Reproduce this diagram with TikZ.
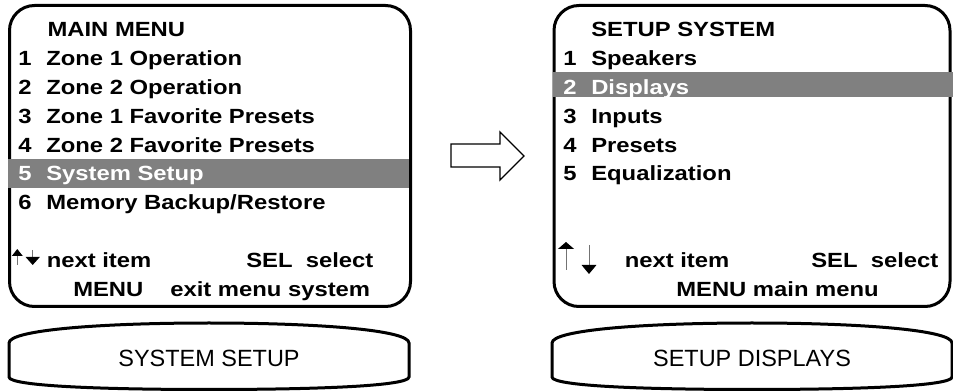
\documentclass[tikz,border=0pt]{standalone}
\usepackage{fontspec}
\setmainfont{Liberation Sans}
\newfontfamily\lcdfont{Liberation Sans Bold}[FakeStretch=1.16]
\usetikzlibrary{arrows.meta}

\begin{document}
\begin{tikzpicture}[x=.75pt, y=-.75pt, screen/.style={draw, line width=2.25pt,
  rounded corners=18.75pt, minimum width=#1, minimum height=225.75pt, inner sep=0pt},
  line/.style={anchor=base west, inner sep=0pt, font=\lcdfont\fontsize{15.4}{18}\selectfont},
  keys/.style 2 args={line width=.75pt, draw=black!55, -{Triangle[width=#1, length=#2, color=black]}},
  pill/.style={line width=2.25pt}, pilltext/.style={font=\fontsize{17.6}{20}\selectfont}]
   \useasboundingbox (0,0) rectangle (953,391);

%Anzeigen
\node[screen=300.75pt] (main) at (210,156) {};
\node[screen=297pt] (setup) at (752,156) {};

%Markierung
\fill[gray] (8,159) rectangle (408.5,188);
\fill[gray] (552.5,72) rectangle (953,97);

%Hauptmenue
\node[line] (mhead) at (47.3,37) {MAIN MENU};
\foreach \nr/\txt/\col in {1/Zone 1 Operation/black, 2/Zone 2 Operation/black,
  3/Zone 1 Favorite Presets/black, 4/Zone 2 Favorite Presets/black,
  5/System Setup/white, 6/{Memory Backup/Restore}/black}
{
  \node[line, text=\col] (m\nr) at (18,37+\nr*28.8) {\nr};
  \node[line, text=\col] (mt\nr) at (46,37+\nr*28.8) {\txt};
}
\draw[keys={8pt}{5.25pt}] (17.3,265) -- (17.3,249);
\draw[keys={10.5pt}{6pt}] (32.7,250) -- (32.7,265);
\node[line] (mnext) at (46.5,268) {next item};
\node[line] (msel) at (246,268) {SEL\ \ select};
\node[line] (mmenu) at (73,297) {MENU};
\node[line] (mexit) at (170,297) {exit menu system};

%Setup
\node[line] (shead) at (591,37) {SETUP SYSTEM};
\foreach \nr/\txt/\col in {1/Speakers/black, 2/Displays/white, 3/Inputs/black,
  4/Presets/black, 5/Equalization/black}
{
  \node[line, text=\col] (s\nr) at (563,37+\nr*28.8) {\nr};
  \node[line, text=\col] (st\nr) at (591,37+\nr*28.8) {\txt};
}
\draw[keys={12pt}{5.25pt}] (566,270) -- (566,242);
\draw[keys={11pt}{6.75pt}] (589,245) -- (589,274);
\node[line] (snext) at (624.5,268) {next item};
\node[line] (ssel) at (811,268) {SEL\ \ select};
\node[line] (smenu) at (676,297) {MENU main menu};

%Pfeil
\draw[line width=1pt, line join=miter] (451,144) -- (500,144) -- (500,132) -- (524,156)
  -- (500,180) -- (500,167) -- (451,167) -- cycle;

%Tasten
\foreach \cx/\nm/\txt in {209/sys/SYSTEM SETUP, 752/disp/SETUP DISPLAYS}
{
  \draw[pill] (\cx-200,343) -- (\cx-200,377) .. controls (\cx-200,386) and (\cx-109,389.5)
    .. (\cx,389.5) .. controls (\cx+109,389.5) and (\cx+200,386) .. (\cx+200,377)
    -- (\cx+200,343) .. controls (\cx+200,330) and (\cx+109,323) .. (\cx,323)
    .. controls (\cx-109,323) and (\cx-200,330) .. cycle;
  \node[pilltext] (\nm) at (\cx,358) {\txt};
}
\end{tikzpicture}
\end{document}
